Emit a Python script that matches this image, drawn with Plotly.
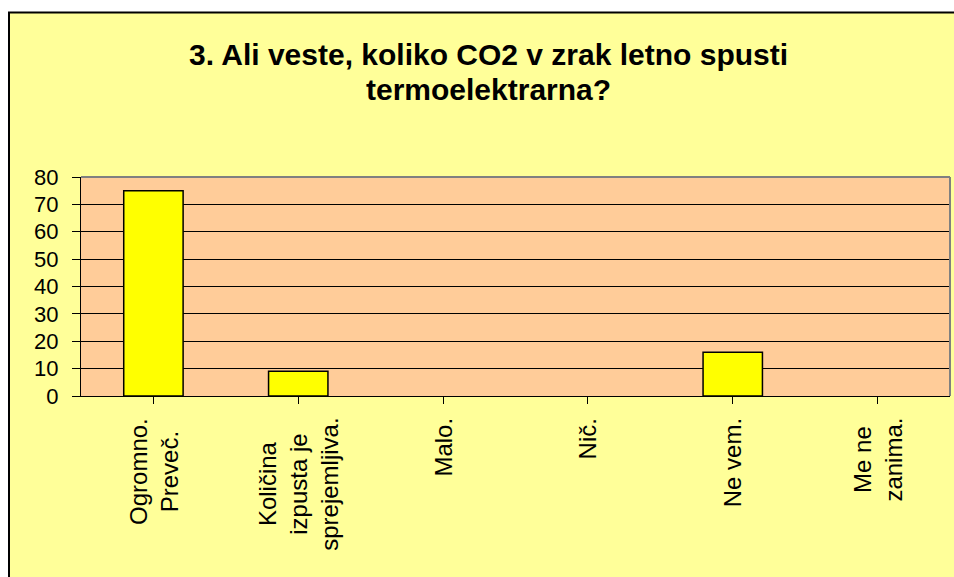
import plotly.graph_objects as go

categories = ["Ogromno.<br>Preveč.", "Količina<br>izpusta je<br>sprejemljiva.", "Malo.", "Nič.", "Ne vem.", "Me ne<br>zanima."]
values = [75, 9, 0, 0, 16, 0]
title_lines = ["3. Ali veste, koliko CO2 v zrak letno spusti", "termoelektrarna?"]
y_ticks = [0, 10, 20, 30, 40, 50, 60, 70, 80]

W, H = 954, 577
L, R, T, B = 81, 4, 177, 181
pw = W - L - R
ph = H - T - B
FONT = "Liberation Sans, Arial, sans-serif"

fig = go.Figure()
fig.add_trace(go.Bar(
    x=list(range(len(categories))), y=[v if v else None for v in values], width=0.41,
    marker=dict(color="#FFFF00", line=dict(color="black", width=1.5)),
    hoverinfo="skip",
))

def px_x(p):
    return (p - L) / pw

def px_y(p):
    return (H - B - p) / ph

shapes = [
    # white strips outside the chart frame (top and left)
    dict(type="rect", xref="paper", yref="paper", x0=px_x(-5), x1=px_x(W + 5), y0=px_y(12), y1=px_y(-5),
         fillcolor="white", line=dict(width=0), layer="above"),
    dict(type="rect", xref="paper", yref="paper", x0=px_x(-5), x1=px_x(8), y0=px_y(H + 5), y1=px_y(-5),
         fillcolor="white", line=dict(width=0), layer="above"),
    # frame border
    dict(type="line", xref="paper", yref="paper", x0=px_x(8), x1=px_x(W + 5), y0=px_y(12.5), y1=px_y(12.5),
         line=dict(color="black", width=2), layer="above"),
    dict(type="line", xref="paper", yref="paper", x0=px_x(9), x1=px_x(9), y0=px_y(12), y1=px_y(H + 5),
         line=dict(color="black", width=2), layer="above"),
    # plot area top/right gray border
    dict(type="line", xref="paper", yref="paper", x0=0, x1=1, y0=1, y1=1,
         line=dict(color="#808080", width=2), layer="above"),
    dict(type="line", xref="paper", yref="paper", x0=1, x1=1, y0=0, y1=1,
         line=dict(color="#808080", width=2), layer="above"),
]

annotations = []
for i, c in enumerate(categories):
    annotations.append(dict(
        x=i, y=0, xref="x", yref="paper", text=c, showarrow=False,
        textangle=-90, xanchor="center", yanchor="top", yshift=-20, align="center",
        font=dict(family=FONT, size=24, color="black"),
    ))
for line, cy in zip(title_lines, [55, 89]):
    annotations.append(dict(
        x=px_x(488), y=px_y(cy), xref="paper", yref="paper", text=line, showarrow=False,
        xanchor="center", yanchor="middle",
        font=dict(family=FONT, size=30, color="black", weight="bold"),
    ))

fig.update_layout(
    width=W, height=H,
    margin=dict(l=L, r=R, t=T, b=B, pad=0),
    paper_bgcolor="#FFFF99",
    plot_bgcolor="#FFCC99",
    showlegend=False,
    xaxis=dict(
        tickmode="array", tickvals=list(range(len(categories))), ticktext=categories,
        showticklabels=False, range=[-0.5, len(categories) - 0.5],
        ticks="outside", tickson="boundaries", ticklen=7, tickcolor="black", tickwidth=1,
        showline=True, linecolor="black", linewidth=1, showgrid=False, zeroline=False,
    ),
    yaxis=dict(
        range=[0, 80], tickmode="array", tickvals=y_ticks,
        ticks="outside", ticklen=8, tickcolor="black", tickwidth=1,
        showline=True, linecolor="black", linewidth=1,
        showgrid=True, gridcolor="black", gridwidth=1, zeroline=False,
        tickfont=dict(family=FONT, size=22, color="black"),
        ticklabelstandoff=9,
    ),
    shapes=shapes,
    annotations=annotations,
)

fig.write_html(
    "out.html",
    config={"displayModeBar": False},
    post_script="document.body.style.margin='0';document.body.style.overflow='hidden';",
)
